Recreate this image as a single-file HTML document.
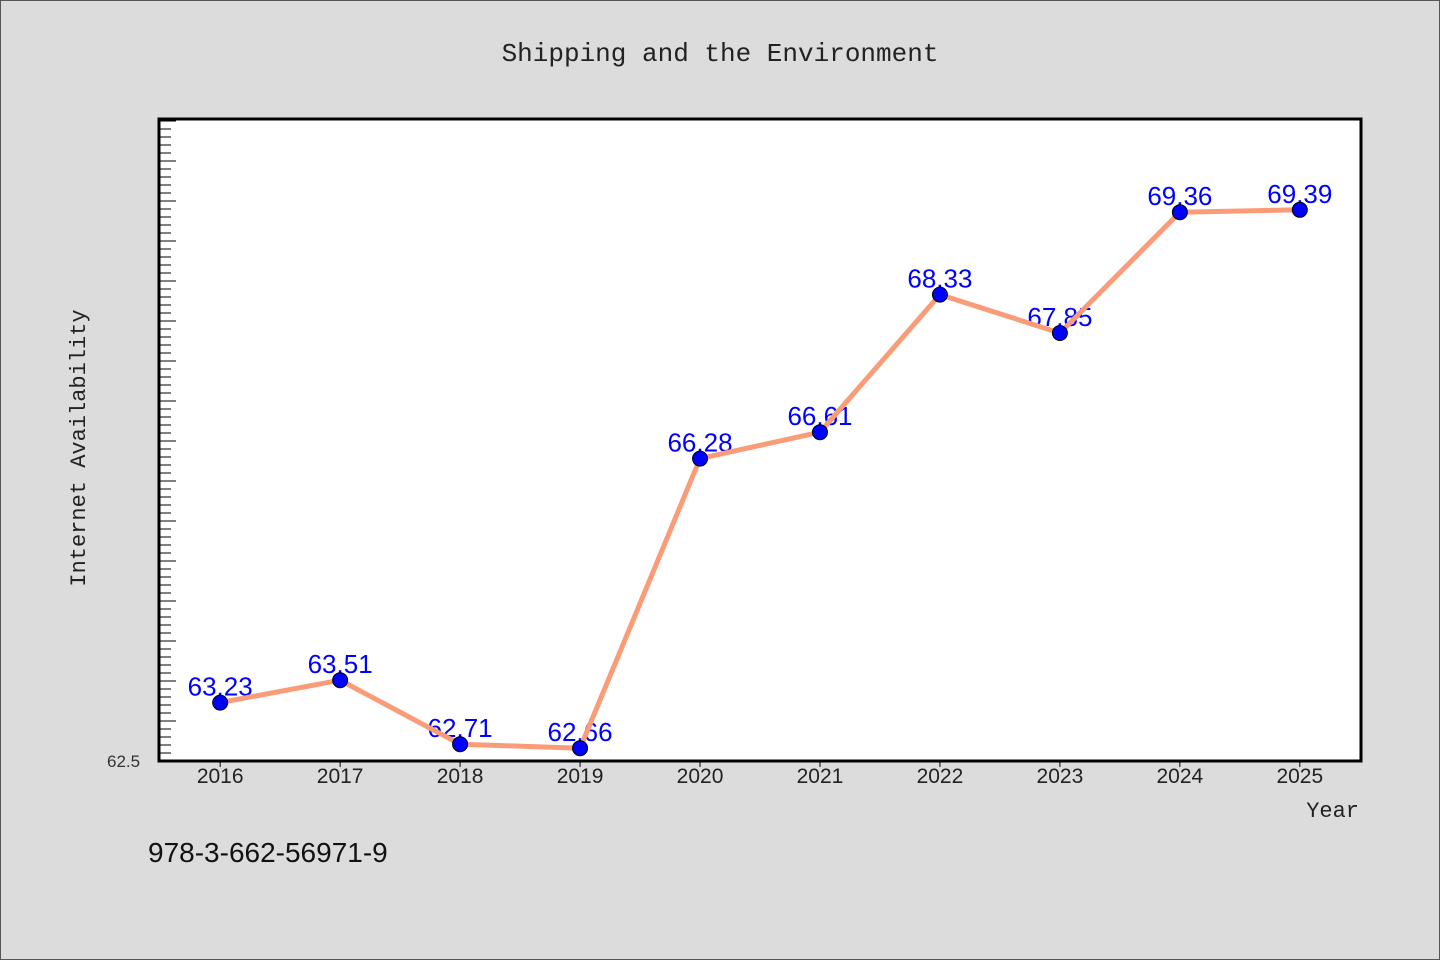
<!DOCTYPE html>
<html><head><meta charset="utf-8"><style>
html,body{margin:0;padding:0;background:#dcdcdc;}
svg{display:block;}
</style></head><body>
<svg id="chart" width="1440" height="960" xmlns="http://www.w3.org/2000/svg">
<rect x="0.5" y="0.5" width="1439" height="959" fill="#dcdcdc" stroke="#555"/>
<text x="720" y="61" text-anchor="middle" font-family="'Liberation Mono',monospace" font-size="26" fill="#222">Shipping and the Environment</text>
<rect x="159" y="119" width="1202" height="642" fill="#fff"/>
<g id="yticks"></g>
<g id="xaxis"></g>
<g id="labels"></g>
<g id="series"></g>
<rect x="159" y="119" width="1202" height="642" fill="none" stroke="#000" stroke-width="3"/>
<text x="107" y="767" text-anchor="start" font-family="'Liberation Sans',sans-serif" font-size="17" fill="#333">62.5</text>
<text transform="translate(85,448) rotate(-90)" text-anchor="middle" font-family="'Liberation Mono',monospace" font-size="22" fill="#222">Internet Availability</text>
<text x="1359" y="817" text-anchor="end" font-family="'Liberation Mono',monospace" font-size="22" fill="#222">Year</text>
<text x="148" y="862" font-family="'Liberation Sans',sans-serif" font-size="28" fill="#111">978-3-662-56971-9</text>
</svg>
<script>
const years = [2016,2017,2018,2019,2020,2021,2022,2023,2024,2025];
const values = [63.23,63.51,62.71,62.66,66.28,66.61,68.33,67.85,69.36,69.39];
const valueLabels = ["63.23","63.51","62.71","62.66","66.28","66.61","68.33","67.85","69.36","69.39"];
const yMin = 62.5, yMax = 70.525;
const NS = "http://www.w3.org/2000/svg";
const L=159,R=1361,T=119,B=761;
function xs(i){ return L + (i + 0.51) * (R - L) / (years.length + 0.02); }
function ys(v){ return B - (v - yMin) / (yMax - yMin) * (B - T); }
function mk(tag, attrs, parent){ const e=document.createElementNS(NS,tag); for(const k in attrs) e.setAttribute(k,attrs[k]); parent.appendChild(e); return e; }
const yt=document.getElementById('yticks');
for(let k=0; ; k++){
  const v=yMin+k*0.1; if(v>yMax) break;
  const y=ys(v); const major = k%5===0;
  const t=mk('line',{x1:L,x2:L+(major?17:12),y1:y,y2:y,stroke:'#000','stroke-width':1},yt);
  
  
}
const xa=document.getElementById('xaxis');
years.forEach((yr,i)=>{
  const x=xs(i);
  const t=mk('line',{x1:x,x2:x,y1:B,y2:B+6,stroke:'#000'},xa);
  
  
  const tx=mk('text',{x:x,y:783,'text-anchor':'middle','font-family':"'Liberation Sans',sans-serif",'font-size':21,fill:'#222'},xa);
  tx.textContent=yr;
  
  
});
const lb=document.getElementById('labels');
values.forEach((v,i)=>{
  const t=mk('text',{x:xs(i),y:ys(v)-7,'text-anchor':'middle','font-family':"'Liberation Sans',sans-serif",'font-size':26,fill:'#0000ff'},lb);
  t.textContent=valueLabels[i];
  
  
});
const sr=document.getElementById('series');
const pl=mk('polyline',{points:values.map((v,i)=>xs(i)+','+ys(v)).join(' '),fill:'none',stroke:'#fa9c78','stroke-width':5,'stroke-linejoin':'round'},sr);


values.forEach((v,i)=>{
  const c=mk('circle',{cx:xs(i),cy:ys(v),r:7.5,fill:'#0000ff',stroke:'#000','stroke-width':1},sr);
  
  
});
</script>
</body></html>
